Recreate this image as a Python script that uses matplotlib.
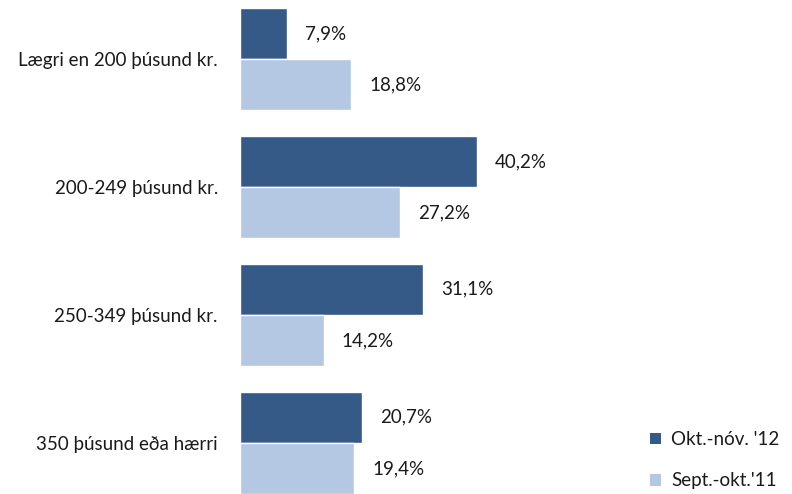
import matplotlib
matplotlib.use("Agg")
import matplotlib.pyplot as plt
from matplotlib.patches import Patch

categories = ["Lægri en 200 þúsund kr.", "200-249 þúsund kr.", "250-349 þúsund kr.", "350 þúsund eða hærri"]
series_names = ["Okt.-nóv. '12", "Sept.-okt.'11"]
okt_nov_12 = [7.9, 40.2, 31.1, 20.7]
sept_okt_11 = [18.8, 27.2, 14.2, 19.4]

dark = "#365A87"
light = "#B4C8E3"
FONT = "Lato"
FS = 13.5

fig = plt.figure(figsize=(7.92, 4.94), dpi=100)
px_per_unit = 5.9
xmax = 60
ax = fig.add_axes([240 / 792, 0, xmax * px_per_unit / 792, 1])

h = 0.4
ys = list(range(len(categories)))
for i, (a, b) in enumerate(zip(okt_nov_12, sept_okt_11)):
    ax.barh(i - h / 2, a, height=h, color=dark, edgecolor="white", linewidth=1.0)
    ax.barh(i + h / 2, b, height=h, color=light, edgecolor="white", linewidth=1.0)
    ax.annotate(f"{a:.1f}".replace(".", ",") + "%", (a, i - h / 2), xytext=(13, 0),
                textcoords="offset points", va="center", ha="left", fontsize=FS,
                family=FONT, color="#1a1a1a")
    ax.annotate(f"{b:.1f}".replace(".", ",") + "%", (b, i + h / 2), xytext=(13, 0),
                textcoords="offset points", va="center", ha="left", fontsize=FS,
                family=FONT, color="#1a1a1a")

ax.set_xlim(0, xmax)
ax.set_ylim(3.4, -0.4625)
ax.set_yticks(ys)
ax.set_yticklabels(categories, fontsize=FS, family=FONT, color="#1a1a1a")
ax.tick_params(axis="y", length=0, pad=16)
ax.set_xticks([])
for s in ax.spines.values():
    s.set_visible(False)

handles = [Patch(facecolor=dark), Patch(facecolor=light)]
leg = fig.legend(handles, series_names, loc="lower right", bbox_to_anchor=(1.005, -0.025),
                 frameon=False, prop={"family": FONT, "size": FS},
                 handlelength=0.6, handleheight=0.6, handletextpad=0.5, labelspacing=1.3)
for t in leg.get_texts():
    t.set_color("#1a1a1a")

fig.savefig("out.png", dpi=100)
